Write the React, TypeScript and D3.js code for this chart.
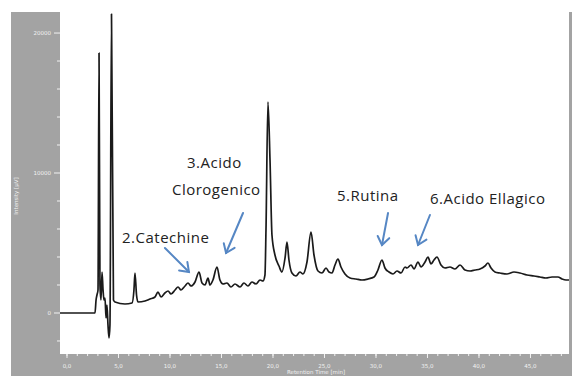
import React from "react";
import * as d3 from "d3";

// Chromatogram trace: retention time (min) and detector response (µV)
const retentionTime = [
  -0.68, 2.72, 2.82, 2.91, 3.01, 3.11, 3.2, 3.3, 3.4, 3.5, 3.59, 3.69, 3.79, 3.88, 3.98, 4.08, 4.17,
  4.32, 4.51, 4.66, 5.63, 6.31, 6.5, 6.6, 6.75, 6.89, 7.57, 8.06, 8.54, 8.83, 9.13, 9.51, 9.81,
  10.1, 10.49, 10.78, 11.07, 11.46, 11.75, 12.04, 12.43, 12.82, 13.11, 13.4, 13.69, 13.88, 14.17,
  14.56, 14.85, 15.15, 15.53, 15.92, 16.31, 16.8, 17.18, 17.57, 17.96, 18.35, 18.74, 19.03, 19.22,
  19.32, 19.51, 19.71, 19.9, 20.19, 20.58, 20.87, 21.17, 21.36, 21.55, 21.84, 22.23, 22.62, 22.91,
  23.3, 23.69, 23.98, 24.37, 24.76, 25.15, 25.44, 25.73, 26.02, 26.31, 26.6, 26.99, 27.48, 28.06,
  28.64, 29.22, 29.81, 30.19, 30.58, 30.87, 31.26, 31.65, 32.04, 32.43, 32.82, 33.01, 33.4, 33.69,
  34.08, 34.37, 34.76, 35.05, 35.34, 35.63, 35.92, 36.31, 36.7, 37.18, 37.67, 38.16, 38.64, 39.13,
  39.61, 40.1, 40.58, 40.87, 41.17, 41.55, 42.04, 42.72, 43.4, 43.98, 44.66, 45.34, 45.92, 46.5,
  47.09, 47.67, 48.06, 48.45, 48.74,
];
const intensity = [
  0, 0, 929, 1286, 1643, 18571, 2000, 929, 2929, 1643, 929, 1071, -357, 571, -857, -1786, -857,
  21357, 929, 786, 643, 714, 1643, 2857, 1286, 786, 857, 1000, 1143, 1500, 1143, 1429, 1571,
  1357, 1643, 1857, 1643, 1929, 2143, 1929, 2214, 2929, 2143, 2000, 2500, 2000, 2357,
  3286, 2357, 2071, 2143, 1857, 2071, 1857, 2143, 1929, 2214, 2071, 2357, 2286, 2714,
  5929, 15071, 10929, 5571, 4143, 3357, 2929, 3929, 5071, 3786, 2857, 2643, 2929, 2786,
  3643, 5786, 4143, 3000, 2857, 3214, 2929, 2857, 3429, 3857, 3286, 2786, 2500, 2429,
  2357, 2429, 2571, 3071, 3786, 3214, 2929, 2786, 3000, 2857, 3286, 3214, 3429, 3143,
  3643, 3286, 3643, 4000, 3500, 3786, 4000, 3429, 3214, 3286, 3143, 3429, 3071, 3000,
  3071, 3143, 3357, 3571, 3214, 2929, 2857, 2786, 2929, 2857, 2714, 2643, 2571, 2500,
  2571, 2571, 2429, 2357, 2357,
];

// Axis ticks
const yMajorTicks = [0, 10000, 20000];
const yMinorTicks = [-2000, 2000, 4000, 6000, 8000, 12000, 14000, 16000, 18000];
const xMajorTicks = [0, 5, 10, 15, 20, 25, 30, 35, 40, 45];
const xTickLabels = ["0,0", "5,0", "10,0", "15,0", "20,0", "25,0", "30,0", "35,0", "40,0", "45,0"];
const xMinorTicks = d3.range(0, 49, 1);

// Compound annotations (anchored in data units)
const labelTexts = ["2.Catechine", "3.Acido", "Clorogenico", "5.Rutina", "6.Acido Ellagico"];
const labelTimes = [5.34, 11.65, 10.19, 26.21, 35.24];
const labelValues = [5000, 10357, 8429, 8000, 7786];

const arrowFromTime = [9.51, 17.09, 31.17, 35.24];
const arrowFromValue = [4643, 7143, 7143, 7000];
const arrowToTime = [11.84, 15.44, 30.58, 34.08];
const arrowToValue = [2929, 4286, 4857, 4857];

const W = 574;
const H = 376;
const PANEL = "#a3a3a3";
const AX = "#f2f2f2";

export default function App() {
  const plotLeft = 60;
  const plotRight = 569;
  const plotTop = 0;
  const plotBottom = 354;

  const x = d3.scaleLinear().domain([-0.68, 48.74]).range([plotLeft, plotRight]);
  const y = d3.scaleLinear().domain([-2930, 22360]).range([plotBottom, plotTop]);

  const points: [number, number][] = retentionTime.map((t, i) => [t, intensity[i]]);
  const line = d3
    .line<[number, number]>()
    .x((d) => x(d[0]))
    .y((d) => y(d[1]))
    .curve(d3.curveMonotoneX);

  const arrowColor = "#5687c4";

  const arrows = arrowFromTime.map((t, i) => {
    const x1 = x(t);
    const y1 = y(arrowFromValue[i]);
    const x2 = x(arrowToTime[i]);
    const y2 = y(arrowToValue[i]);
    const ang = Math.atan2(y2 - y1, x2 - x1);
    const len = 10;
    const spread = Math.PI / 5;
    const h1 = [x2 - len * Math.cos(ang - spread), y2 - len * Math.sin(ang - spread)];
    const h2 = [x2 - len * Math.cos(ang + spread), y2 - len * Math.sin(ang + spread)];
    return { x1, y1, x2, y2, h1, h2 };
  });

  return (
    <div style={{ position: "absolute", left: 0, top: 0, width: W, height: H, background: "#fff" }}>
      <svg width={W} height={H} style={{ display: "block" }}>
        <rect x={0} y={0} width={W} height={H} fill="#fff" />
        {/* frame */}
        <rect x={11} y={12} width={561} height={H - 12} fill={PANEL} />
        <rect x={plotLeft} y={0} width={plotRight - plotLeft} height={plotBottom} fill="#fff" />

        {/* y axis */}
        {yMajorTicks.map((v) => (
          <g key={"ym" + v}>
            <line x1={54} x2={plotLeft} y1={y(v)} y2={y(v)} stroke={AX} strokeWidth={1} />
            <text
              x={51}
              y={y(v)}
              dy="0.35em"
              textAnchor="end"
              fontSize={5.5}
              fontFamily="DejaVu Sans"
              fill={AX}
            >
              {v}
            </text>
          </g>
        ))}
        {yMinorTicks.map((v) => (
          <line key={"yn" + v} x1={57} x2={plotLeft} y1={y(v)} y2={y(v)} stroke={AX} strokeWidth={1} />
        ))}
        <text
          transform={`translate(18,${196}) rotate(-90)`}
          textAnchor="middle"
          fontSize={5.5}
          fontFamily="DejaVu Sans"
          fill={AX}
        >
          Intensity [µV]
        </text>

        {/* x axis */}
        {xMinorTicks.map((t) => (
          <line key={"xn" + t} x1={x(t)} x2={x(t)} y1={plotBottom} y2={plotBottom + 2} stroke={AX} strokeWidth={1} />
        ))}
        {xMajorTicks.map((t, i) => (
          <g key={"xm" + t}>
            <line x1={x(t)} x2={x(t)} y1={plotBottom} y2={plotBottom + 4} stroke={AX} strokeWidth={1} />
            <text
              x={x(t)}
              y={366}
              dy="0.35em"
              textAnchor="middle"
              fontSize={5.5}
              fontFamily="DejaVu Sans"
              fill={AX}
            >
              {xTickLabels[i]}
            </text>
          </g>
        ))}
        <text x={316} y={374} textAnchor="middle" fontSize={5.5} fontFamily="DejaVu Sans" fill={AX}>
          Retention Time [min]
        </text>

        {/* trace */}
        <path d={line(points) ?? ""} fill="none" stroke="#1a1a1a" strokeWidth={1.7} strokeLinejoin="round" />

        {/* annotations */}
        {arrows.map((a, i) => (
          <g key={"ar" + i} stroke={arrowColor} strokeWidth={2} fill="none" strokeLinecap="round">
            <line x1={a.x1} y1={a.y1} x2={a.x2} y2={a.y2} />
            <polyline points={`${a.h1[0]},${a.h1[1]} ${a.x2},${a.y2} ${a.h2[0]},${a.h2[1]}`} />
          </g>
        ))}
        {labelTexts.map((s, i) => (
          <text
            key={"lb" + i}
            x={x(labelTimes[i])}
            y={y(labelValues[i])}
            fontSize={15}
            letterSpacing={0.5}
            fontFamily="Open Sans"
            fill="#222"
            style={{ whiteSpace: "pre" }}
          >
            {s}
          </text>
        ))}
      </svg>
    </div>
  );
}
